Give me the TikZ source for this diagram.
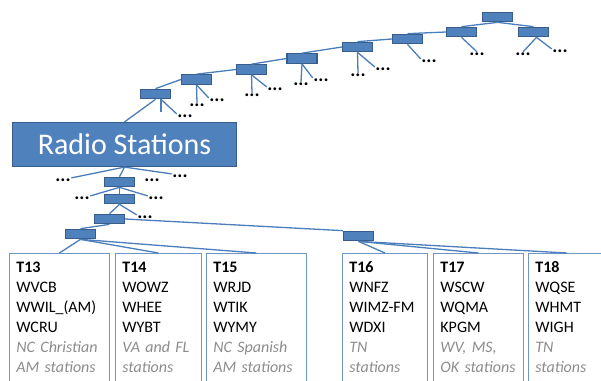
\documentclass[tikz,border=0pt]{standalone}
\usepackage{fontspec}
\setmainfont{Carlito}
\usepackage{xcolor}
\usetikzlibrary{positioning}

\definecolor{boxblue}{HTML}{4F81BD}
\definecolor{boxedge}{HTML}{385D8A}
\definecolor{linkblue}{HTML}{4A7EBB}
\definecolor{stnedge}{HTML}{7096C8}
\definecolor{notegray}{HTML}{8C8C8C}

\tikzset{
  sbox/.style={draw=boxedge, fill=boxblue, line width=1.2pt,
    minimum width=30pt, minimum height=9.5pt, inner sep=0pt},
  rbox/.style={draw=boxedge, fill=boxblue, line width=1.2pt,
    minimum width=224pt, minimum height=44pt, text=white,
    font=\fontsize{30}{36}\selectfont},
  link/.style={draw=linkblue, line width=1.3pt},
  more/.style={font=\bfseries\fontsize{19}{19}\selectfont, inner sep=0.5pt},
  stn/.style={draw=stnedge, line width=0.8pt, anchor=north west,
    align=left, inner xsep=7pt, inner ysep=8.5pt,
    font=\fontsize{16}{20}\selectfont},
}
\newcommand{\grp}[1]{{\color{notegray}\itshape #1}}

\begin{document}
\begin{tikzpicture}[x=1pt, y=-1pt]
  \useasboundingbox (0,0) rectangle (601,380);
  \clip (0,0) rectangle (601,380);

  \node[rbox] (radio) at (124.5,144.5) {Radio Stations};

  % chain up to the root
  \node[sbox] (a) at (155.5,94) {};
  \node[sbox] (b) at (196.5,79.5) {};
  \node[sbox] (c) at (251.5,69.5) {};
  \node[sbox] (d) at (302,58.5) {};
  \node[sbox] (e) at (357.5,47) {};
  \node[sbox] (f) at (407.5,39) {};
  \node[sbox] (g) at (461.5,32) {};
  \node[sbox] (h) at (497.5,17) {};
  \node[sbox] (i) at (533.5,32) {};

  \coordinate (a0) at (161,112);
  \node[more] (a1) at (185,116) {...};
  \node[more] (b1) at (197,105) {...};
  \node[more] (b2) at (217,100) {...};
  \node[more] (c1) at (252,95) {...};
  \node[more] (c2) at (275,89) {...};
  \node[more] (d1) at (301,84) {...};
  \node[more] (d2) at (321,80) {...};
  \node[more] (e1) at (358,75) {...};
  \node[more] (e2) at (383,69) {...};
  \node[more] (f1) at (429,61) {...};
  \node[more] (g1) at (477,54) {...};
  \node[more] (i1) at (523,54) {...};
  \node[more] (i2) at (560,51) {...};

  % down to the topics
  \node[sbox] (j) at (119.5,182) {};
  \node[sbox] (k) at (119.5,199) {};
  \node[sbox] (l) at (109.5,219) {};
  \node[sbox] (n) at (80.5,234) {};
  \node[sbox] (m) at (358.5,236) {};

  \node[more] (r0) at (63,180) {...};
  \node[more] (r1) at (180,176) {...};
  \node[more] (r2) at (152,180) {...};
  \node[more] (j1) at (82,198) {...};
  \node[more] (j2) at (156,198) {...};
  \node[more] (k1) at (145,217) {...};

  \node[stn, text width=86pt] (t13) at (9,253)
    {\textbf{T13}\\WVCB\\WWIL\_(AM)\\WCRU\\\grp{NC Christian}\\\grp{AM stations}};
  \node[stn, text width=72pt] (t14) at (115,253)
    {\textbf{T14}\\WOWZ\\WHEE\\WYBT\\\grp{VA and FL}\\\grp{stations}};
  \node[stn, text width=86pt] (t15) at (206,253)
    {\textbf{T15}\\WRJD\\WTIK\\WYMY\\\grp{NC Spanish}\\\grp{AM stations}};
  \node[stn, text width=71pt] (t16) at (342,253)
    {\textbf{T16}\\WNFZ\\WIMZ-FM\\WDXI\\\grp{TN}\\\grp{stations}};
  \node[stn, text width=76pt] (t17) at (433,253)
    {\textbf{T17}\\WSCW\\WQMA\\KPGM\\\grp{WV, MS,}\\\grp{OK stations}};
  \node[stn, text width=63pt] (t18) at (528,253)
    {\textbf{T18}\\WQSE\\WHMT\\WIGH\\\grp{TN}\\\grp{stations}};

  \draw[link] (radio.north) -- (a.south);
  \draw[link] (a.north) -- (b.west);
  \draw[link] (b.north) -- (c.west);
  \draw[link] (c.north) -- (d.west);
  \draw[link] (d.north) -- (e.west);
  \draw[link] (e.north) -- (f.west);
  \draw[link] (f.north) -- (g.west);
  \draw[link] (g.north) -- (h.south);
  \draw[link] (i.north) -- (h.south);

  \draw[link] ([xshift=5.5pt]a.south) -- (a0);
  \draw[link] ([xshift=5.5pt]a.south) -- (a1.north west);
  \draw[link] (b.south) -- (b1.north);
  \draw[link] (b.south) -- (b2.north west);
  \draw[link] (c.south) -- (c1.north);
  \draw[link] (c.south) -- (c2.north west);
  \draw[link] (d.south) -- (d1.north);
  \draw[link] (d.south) -- (d2.north west);
  \draw[link] (e.south) -- (e1.north);
  \draw[link] (e.south) -- (e2.north west);
  \draw[link] (f.south) -- (f1.north west);
  \draw[link] (g.south) -- (g1.north);
  \draw[link] ([xshift=3pt]i.south) -- (i1.north);
  \draw[link] ([xshift=3pt]i.south) -- (i2.north west);

  \draw[link] (radio.south) -- (j.north);
  \draw[link] (radio.south) -- (r0.north east);
  \draw[link] (radio.south) -- (r1.north west);
  \draw[link] (j.south) -- (k.north);
  \draw[link] (j.south) -- (j1.north east);
  \draw[link] (j.south) -- (j2.north west);
  \draw[link] (k.south) -- (l.north);
  \draw[link] (k.south) -- (k1.north west);
  \draw[link] (l.south) -- (n.north);
  \draw[link] (l.east) -- (m.north west);

  \draw[link] (n.south) -- (t13.north);
  \draw[link] (n.south) -- (t14.north);
  \draw[link] (n.south) -- (t15.north);
  \draw[link] (m.south) -- (t16.north);
  \draw[link] (m.south) -- (t17.north);
  \draw[link] (m.south) -- (t18.north);

\end{tikzpicture}
\end{document}
